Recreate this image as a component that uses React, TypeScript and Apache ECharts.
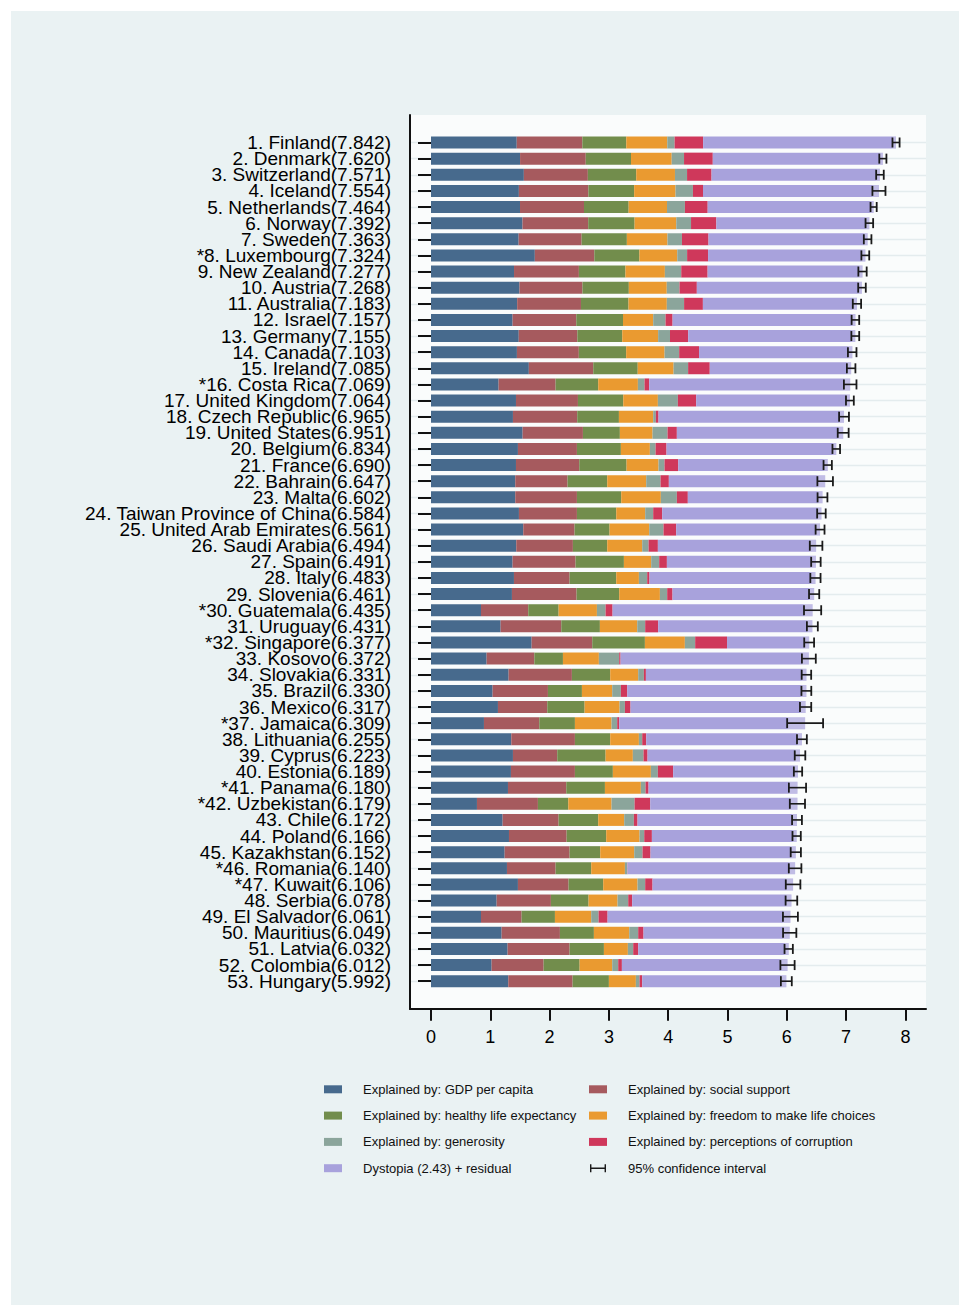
import React, { useEffect, useRef } from 'react';
import * as echarts from 'echarts';

const countries = [
  '1. Finland', '2. Denmark', '3. Switzerland', '4. Iceland', '5. Netherlands', '6. Norway', '7. Sweden',
  '*8. Luxembourg', '9. New Zealand', '10. Austria', '11. Australia', '12. Israel', '13. Germany', '14. Canada',
  '15. Ireland', '*16. Costa Rica', '17. United Kingdom', '18. Czech Republic', '19. United States', '20. Belgium',
  '21. France', '22. Bahrain', '23. Malta', '24. Taiwan Province of China', '25. United Arab Emirates',
  '26. Saudi Arabia', '27. Spain', '28. Italy', '29. Slovenia', '*30. Guatemala', '31. Uruguay', '*32. Singapore',
  '33. Kosovo', '34. Slovakia', '35. Brazil', '36. Mexico', '*37. Jamaica', '38. Lithuania', '39. Cyprus',
  '40. Estonia', '*41. Panama', '*42. Uzbekistan', '43. Chile', '44. Poland', '45. Kazakhstan', '*46. Romania',
  '*47. Kuwait', '48. Serbia', '49. El Salvador', '50. Mauritius', '51. Latvia', '52. Colombia', '53. Hungary',
];

const scores = [
  7.842, 7.620, 7.571, 7.554, 7.464, 7.392, 7.363, 7.324, 7.277, 7.268, 7.183, 7.157, 7.155, 7.103, 7.085,
  7.069, 7.064, 6.965, 6.951, 6.834, 6.690, 6.647, 6.602, 6.584, 6.561, 6.494, 6.491, 6.483, 6.461, 6.435,
  6.431, 6.377, 6.372, 6.331, 6.330, 6.317, 6.309, 6.255, 6.223, 6.189, 6.180, 6.179, 6.172, 6.166, 6.152,
  6.140, 6.106, 6.078, 6.061, 6.049, 6.032, 6.012, 5.992,
];

const gdp = [
  1.446, 1.502, 1.566, 1.482, 1.501, 1.543, 1.478, 1.751, 1.400, 1.492, 1.453, 1.376, 1.480, 1.449, 1.650,
  1.140, 1.433, 1.382, 1.545, 1.466, 1.433, 1.421, 1.421, 1.483, 1.556, 1.438, 1.376, 1.399, 1.365, 0.843,
  1.174, 1.697, 0.938, 1.309, 1.039, 1.129, 0.893, 1.354, 1.382, 1.348, 1.298, 0.775, 1.208, 1.315, 1.242,
  1.281, 1.466, 1.107, 0.843, 1.191, 1.292, 1.022, 1.303,
];
const social = [
  1.106, 1.108, 1.079, 1.172, 1.079, 1.108, 1.062, 1.003, 1.094, 1.062, 1.076, 1.074, 0.988, 1.044, 1.086,
  0.961, 1.045, 1.084, 1.017, 0.995, 1.067, 0.882, 1.040, 0.978, 0.865, 0.955, 1.062, 0.938, 1.090, 0.797,
  1.023, 1.022, 0.804, 1.067, 0.933, 0.832, 0.933, 1.073, 0.747, 1.079, 0.983, 1.028, 0.944, 0.972, 1.095,
  0.820, 0.854, 0.915, 0.685, 0.983, 1.045, 0.877, 1.085,
];
const health = [
  0.741, 0.763, 0.816, 0.772, 0.753, 0.782, 0.763, 0.760, 0.785, 0.782, 0.801, 0.788, 0.757, 0.798, 0.750,
  0.719, 0.764, 0.703, 0.623, 0.741, 0.798, 0.669, 0.747, 0.663, 0.590, 0.579, 0.815, 0.787, 0.719, 0.512,
  0.651, 0.888, 0.483, 0.646, 0.573, 0.629, 0.601, 0.595, 0.815, 0.640, 0.652, 0.512, 0.668, 0.668, 0.517,
  0.601, 0.584, 0.635, 0.562, 0.573, 0.579, 0.607, 0.612,
];
const freedom = [
  0.691, 0.686, 0.653, 0.698, 0.647, 0.703, 0.685, 0.639, 0.665, 0.640, 0.647, 0.509, 0.605, 0.648, 0.605,
  0.669, 0.584, 0.578, 0.551, 0.489, 0.539, 0.657, 0.668, 0.488, 0.669, 0.590, 0.460, 0.382, 0.686, 0.646,
  0.630, 0.674, 0.606, 0.472, 0.511, 0.590, 0.618, 0.484, 0.460, 0.641, 0.606, 0.730, 0.438, 0.562, 0.573,
  0.568, 0.579, 0.489, 0.612, 0.596, 0.404, 0.550, 0.455,
];
const generosity = [
  0.124, 0.208, 0.204, 0.293, 0.302, 0.249, 0.244, 0.166, 0.276, 0.215, 0.291, 0.208, 0.200, 0.246, 0.245,
  0.112, 0.337, 0.045, 0.253, 0.096, 0.101, 0.242, 0.270, 0.135, 0.241, 0.107, 0.135, 0.140, 0.123, 0.146,
  0.134, 0.174, 0.343, 0.096, 0.146, 0.090, 0.095, 0.056, 0.180, 0.118, 0.079, 0.388, 0.163, 0.079, 0.140,
  0.039, 0.129, 0.180, 0.124, 0.151, 0.090, 0.101, 0.062,
];
const corruption = [
  0.481, 0.485, 0.413, 0.170, 0.384, 0.427, 0.448, 0.353, 0.445, 0.292, 0.317, 0.119, 0.307, 0.335, 0.365,
  0.079, 0.309, 0.045, 0.157, 0.185, 0.231, 0.140, 0.185, 0.152, 0.214, 0.157, 0.130, 0.039, 0.090, 0.118,
  0.219, 0.537, 0.023, 0.034, 0.107, 0.095, 0.034, 0.067, 0.068, 0.258, 0.051, 0.264, 0.062, 0.129, 0.135,
  0.005, 0.124, 0.067, 0.152, 0.090, 0.084, 0.062, 0.045,
];
const dystopia = [
  3.253, 2.868, 2.839, 2.967, 2.798, 2.580, 2.683, 2.653, 2.612, 2.784, 2.598, 3.083, 2.818, 2.585, 2.384,
  3.389, 2.592, 3.128, 2.805, 2.862, 2.521, 2.636, 2.271, 2.685, 2.426, 2.668, 2.513, 2.798, 2.388, 3.373,
  2.600, 1.385, 3.175, 2.707, 3.021, 2.952, 3.135, 2.626, 2.571, 2.105, 2.511, 2.482, 2.689, 2.441, 2.450,
  2.826, 2.370, 2.685, 3.083, 2.465, 2.538, 2.793, 2.430,
];
const ciLower = [
  7.782, 7.560, 7.507, 7.444, 7.412, 7.328, 7.299, 7.258, 7.207, 7.204, 7.113, 7.093, 7.089, 7.031, 7.013,
  6.963, 6.998, 6.882, 6.859, 6.770, 6.620, 6.516, 6.519, 6.512, 6.486, 6.388, 6.411, 6.397, 6.375, 6.290,
  6.339, 6.294, 6.255, 6.251, 6.247, 6.222, 6.006, 6.172, 6.134, 6.119, 6.035, 6.051, 6.089, 6.096, 6.066,
  6.034, 5.983, 5.980, 5.935, 5.937, 5.962, 5.892, 5.900,
];
const ciUpper = [
  7.902, 7.680, 7.635, 7.664, 7.516, 7.456, 7.427, 7.390, 7.347, 7.332, 7.253, 7.221, 7.221, 7.175, 7.157,
  7.175, 7.130, 7.048, 7.043, 6.898, 6.760, 6.778, 6.685, 6.656, 6.636, 6.600, 6.571, 6.569, 6.547, 6.580,
  6.523, 6.460, 6.489, 6.411, 6.413, 6.412, 6.612, 6.338, 6.312, 6.259, 6.325, 6.307, 6.255, 6.236, 6.238,
  6.246, 6.229, 6.176, 6.187, 6.161, 6.102, 6.132, 6.084,
];
const xTicks = [0, 1, 2, 3, 4, 5, 6, 7, 8];

const seriesNames = [
  'Explained by: GDP per capita',
  'Explained by: social support',
  'Explained by: healthy life expectancy',
  'Explained by: freedom to make life choices',
  'Explained by: generosity',
  'Explained by: perceptions of corruption',
  'Dystopia (2.43) + residual',
];
const ciName = '95% confidence interval';
const colors = ['#476a8d', '#a65a5e', '#728d4c', '#ea9a30', '#8ba59b', '#cf385b', '#a8a2dc'];

const FONT = '"Liberation Sans", Arial, Helvetica, sans-serif';

export default function App() {
  const ref = useRef<HTMLDivElement>(null);

  useEffect(() => {
    if (!ref.current) return;
    const chart = echarts.init(ref.current, null, { renderer: 'svg' });

    const labels = countries.map((c, i) => `${c}(${scores[i].toFixed(3)})`);
    const comps = [gdp, social, health, freedom, generosity, corruption, dystopia];

    const X0 = 431;
    const UNIT = 59.3;
    const xMin = (410 - X0) / UNIT;
    const xMax = (926 - X0) / UNIT;

    const barSeries = comps.map((vals, k) => ({
      name: seriesNames[k],
      type: 'bar',
      stack: 'total',
      xAxisIndex: 0,
      yAxisIndex: 0,
      barWidth: 12,
      itemStyle: { color: colors[k] },
      emphasis: { disabled: true },
      data: vals,
      z: 2,
    }));

    const ciData = scores.map((s, i) => [ciLower[i], ciUpper[i], s, i]);

    const legendIconCI = 'path://M0,0h1.6v9h-1.6z M0,3.7h18v1.6h-18z M16.4,0h1.6v9h-1.6z';

    const legendCommon = {
      orient: 'vertical',
      padding: 0,
      itemWidth: 18,
      itemHeight: 8,
      itemGap: 10.3,
      selectedMode: false,
      textStyle: { fontFamily: FONT, fontSize: 13, color: '#111', lineHeight: 16, padding: [0, 0, 0, 16] },
    };

    const option: any = {
      animation: false,
      backgroundColor: '#ffffff',
      graphic: [
        {
          type: 'rect',
          z: -100,
          silent: true,
          shape: { x: 11, y: 11, width: 948, height: 1294 },
          style: { fill: '#eaf2f3' },
        },
      ],
      grid: [
        {
          left: 410,
          right: 44,
          top: 142.5,
          height: 838.7,
          containLabel: false,
          outerBoundsMode: 'none',
        },
        {
          left: 410,
          right: 44,
          top: 115,
          bottom: 1316 - 1009,
          show: true,
          backgroundColor: '#fafcfc',
          borderWidth: 0,
          containLabel: false,
          outerBoundsMode: 'none',
          z: -1,
        },
      ],
      xAxis: [
        {
          type: 'value',
          gridIndex: 0,
          min: xMin,
          max: xMax,
          position: 'bottom',
          offset: 1008.8 - 981.2,
          axisLine: { show: false },
          axisTick: { show: true, customValues: xTicks, length: 12, lineStyle: { color: '#111', width: 2 } },
          axisLabel: {
            show: true,
            customValues: xTicks,
            margin: 19,
            fontFamily: FONT,
            fontSize: 18,
            color: '#000',
            formatter: (v: number) => String(Math.round(v)),
          },
          splitLine: { show: false },
        },
        {
          type: 'value',
          gridIndex: 1,
          min: 0,
          max: 1,
          axisLine: { show: true, lineStyle: { color: '#111', width: 2 } },
          axisTick: { show: false },
          axisLabel: { show: false },
          splitLine: { show: false },
        },
      ],
      yAxis: [
        {
          type: 'category',
          gridIndex: 0,
          data: labels,
          inverse: true,
          boundaryGap: false,
          axisLine: { show: false },
          axisTick: { show: true, length: 13, interval: 0, lineStyle: { color: '#111', width: 2 } },
          axisLabel: {
            interval: 0,
            margin: 19,
            fontFamily: FONT,
            fontSize: 19,
            lineHeight: 16,
            color: '#000',
          },
          splitLine: { show: true, interval: 0, lineStyle: { color: '#e4ecee', width: 1.3 } },
        },
        {
          type: 'value',
          gridIndex: 1,
          min: 0,
          max: 1,
          axisLine: { show: true, lineStyle: { color: '#111', width: 2 } },
          axisTick: { show: false },
          axisLabel: { show: false },
          splitLine: { show: false },
        },
      ],
      legend: [
        {
          ...legendCommon,
          left: 324,
          top: 1081.3,
          data: [seriesNames[0], seriesNames[2], seriesNames[4], seriesNames[6]].map((n) => ({ name: n, icon: 'rect' })),
        },
        {
          ...legendCommon,
          left: 589,
          top: 1081.3,
          data: [
            { name: seriesNames[1], icon: 'rect' },
            { name: seriesNames[3], icon: 'rect' },
            { name: seriesNames[5], icon: 'rect' },
            { name: ciName, icon: legendIconCI, itemStyle: { color: '#1a1a1a' } },
          ],
        },
      ],
      series: [
        ...barSeries,
        {
          name: ciName,
          type: 'custom',
          xAxisIndex: 0,
          yAxisIndex: 0,
          z: 5,
          itemStyle: { color: '#1a1a1a' },
          encode: { x: [0, 1, 2], y: 3 },
          data: ciData,
          renderItem: (params: any, api: any) => {
            const i = api.value(3);
            const lo = api.coord([api.value(0), i]);
            const hi = api.coord([api.value(1), i]);
            const sc = api.coord([api.value(2), i]);
            const y = lo[1];
            const cap = 5;
            const stroke = '#1a1a1a';
            return {
              type: 'group',
              children: [
                {
                  type: 'rect',
                  shape: { x: lo[0], y: y - 6, width: Math.max(0, sc[0] - lo[0]), height: 12 },
                  style: { fill: 'rgba(255,255,255,0.28)' },
                },
                { type: 'line', shape: { x1: lo[0], y1: y, x2: hi[0], y2: y }, style: { stroke, lineWidth: 1.6 } },
                { type: 'line', shape: { x1: lo[0], y1: y - cap, x2: lo[0], y2: y + cap }, style: { stroke, lineWidth: 1.8 } },
                { type: 'line', shape: { x1: hi[0], y1: y - cap, x2: hi[0], y2: y + cap }, style: { stroke, lineWidth: 1.8 } },
              ],
            };
          },
        },
      ],
    };

    chart.setOption(option);
    return () => chart.dispose();
  }, []);

  return <div ref={ref} style={{ position: 'absolute', left: 0, top: 0, width: 970, height: 1316 }} />;
}
